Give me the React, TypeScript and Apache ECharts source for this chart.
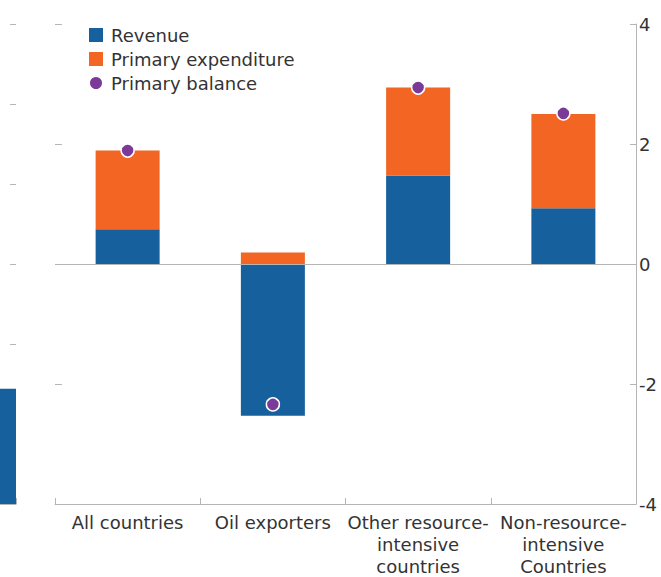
import React, { useEffect, useRef } from "react";
import * as echarts from "echarts";

const categories = [
  "All countries",
  "Oil exporters",
  "Other resource-\nintensive\ncountries",
  "Non-resource-\nintensive\nCountries",
];
const revenue = [0.58, -2.53, 1.47, 0.93];
const expenditure = [1.31, 0.19, 1.47, 1.57];
const balance = [1.89, -2.34, 2.94, 2.51];
const yTicks = { min: -4, max: 4, interval: 2 };

// fragment of the neighbouring panel visible at the left edge
const neighborCategories = ["prev"];
const neighborValues = [1.44];

const BLUE = "#15609d";
const ORANGE = "#f26522";
const PURPLE = "#7b3a98";
const GRAY = "#b5b5b5";
const TEXT = "#333333";
const FONT = "DejaVu Sans";

export default function App() {
  const ref = useRef<HTMLDivElement>(null);
  useEffect(() => {
    if (!ref.current) return;
    const chart = echarts.init(ref.current, undefined, { renderer: "svg" });
    chart.setOption({
      animation: false,
      textStyle: { fontFamily: FONT },
      legend: {
        orient: "vertical",
        left: 83,
        top: 21,
        itemWidth: 14,
        itemHeight: 14,
        itemGap: 6,
        data: [
          { name: "Revenue", icon: "rect" },
          { name: "Primary expenditure", icon: "rect" },
          { name: "Primary balance", icon: "circle" },
        ],
        textStyle: { fontSize: 18, color: TEXT, fontFamily: FONT, padding: [0, 0, 0, 3] },
      },
      grid: [
        { left: 55, right: 25, top: 24, bottom: 73, outerBoundsMode: "none", containLabel: false },
        { left: 0, width: 16, top: 24, bottom: 73, outerBoundsMode: "none", containLabel: false },
      ],
      xAxis: [
        {
          type: "category",
          gridIndex: 0,
          data: categories,
          axisLine: { onZero: false, lineStyle: { color: GRAY, width: 1 } },
          axisTick: { show: true, inside: true, length: 6, lineStyle: { color: GRAY } },
          axisLabel: {
            interval: 0,
            fontSize: 18,
            lineHeight: 22,
            color: TEXT,
            margin: 7,
            fontFamily: FONT,
          },
        },
        {
          type: "category",
          gridIndex: 1,
          data: neighborCategories,
          axisLine: { onZero: false, lineStyle: { color: GRAY, width: 1 } },
          axisTick: { show: true, inside: true, length: 6, lineStyle: { color: GRAY } },
          axisLabel: { show: false },
        },
      ],
      yAxis: [
        {
          type: "value",
          gridIndex: 0,
          position: "right",
          min: yTicks.min,
          max: yTicks.max,
          interval: yTicks.interval,
          axisLine: { show: true, lineStyle: { color: GRAY } },
          axisTick: { show: true, inside: true, length: 6, lineStyle: { color: GRAY } },
          axisLabel: { fontSize: 18, color: TEXT, margin: 3, fontFamily: FONT },
          splitLine: { show: false },
        },
        {
          type: "value",
          gridIndex: 0,
          position: "left",
          min: yTicks.min,
          max: yTicks.max,
          interval: yTicks.interval,
          axisLine: { show: false },
          axisTick: { show: true, inside: true, length: 7, lineStyle: { color: GRAY } },
          axisLabel: { show: false },
          splitLine: { show: false },
        },
        {
          type: "value",
          gridIndex: 1,
          position: "right",
          min: 0,
          max: 6,
          interval: 1,
          axisLine: { show: false },
          axisTick: { show: true, inside: true, length: 6, lineStyle: { color: GRAY } },
          axisLabel: { show: false },
          splitLine: { show: false },
        },
      ],
      series: [
        {
          name: "Revenue",
          type: "bar",
          stack: "total",
          xAxisIndex: 0,
          yAxisIndex: 0,
          barWidth: 64,
          data: revenue,
          itemStyle: { color: BLUE },
        },
        {
          name: "Primary expenditure",
          type: "bar",
          stack: "total",
          xAxisIndex: 0,
          yAxisIndex: 0,
          barWidth: 64,
          data: expenditure,
          itemStyle: { color: ORANGE },
          markLine: {
            silent: true,
            symbol: "none",
            label: { show: false },
            lineStyle: { color: GRAY, width: 1, type: "solid" },
            data: [{ yAxis: 0 }],
          },
        },
        {
          name: "Primary balance",
          type: "scatter",
          xAxisIndex: 0,
          yAxisIndex: 0,
          symbol: "circle",
          symbolSize: 13,
          z: 5,
          data: balance,
          itemStyle: { color: PURPLE, borderColor: "#ffffff", borderWidth: 1.5, opacity: 1 },
        },
        {
          name: "neighbor",
          type: "bar",
          xAxisIndex: 1,
          yAxisIndex: 2,
          barWidth: 16,
          data: neighborValues,
          itemStyle: { color: BLUE },
        },
      ],
    });
    return () => chart.dispose();
  }, []);
  return (
    <div
      ref={ref}
      style={{ position: "fixed", left: 0, top: 0, width: 661, height: 577, background: "#fff" }}
    />
  );
}
